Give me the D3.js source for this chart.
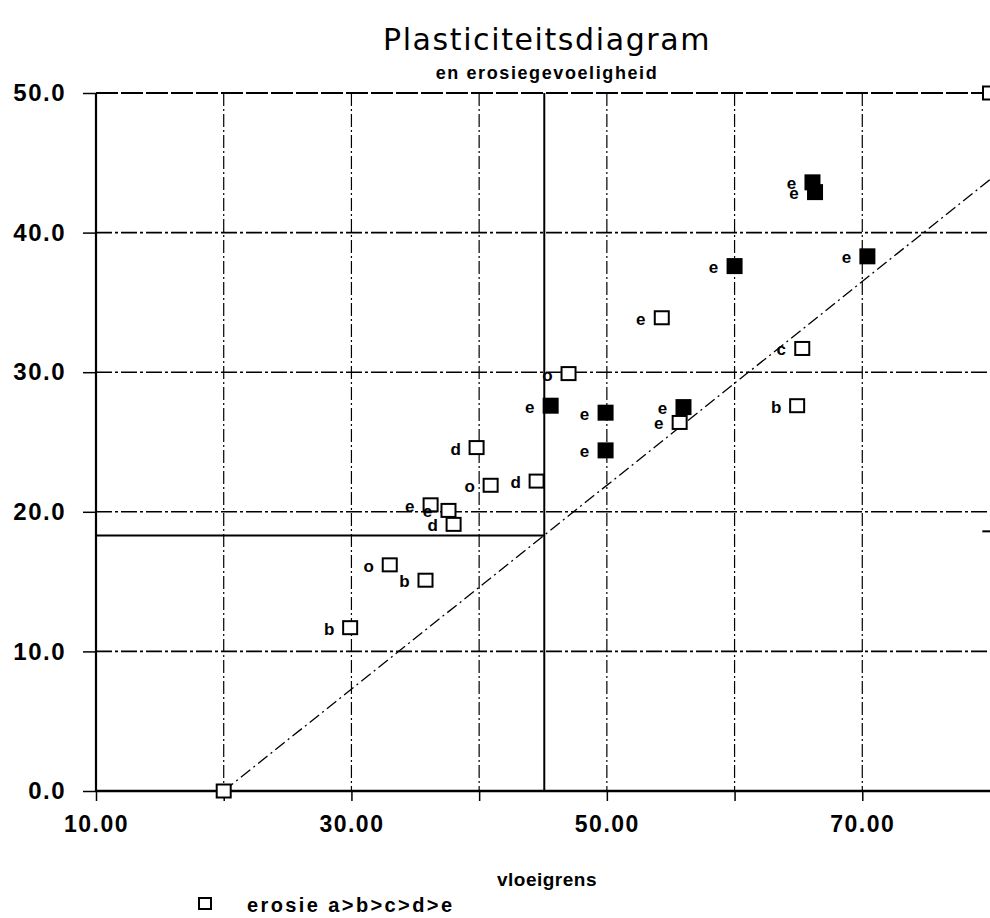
<!DOCTYPE html>
<html><head><meta charset="utf-8">
<script src="https://cdn.jsdelivr.net/npm/d3@7"></script>
<style>
body{margin:0;background:#fff;}
svg{display:block;}
text{font-family:"Liberation Sans",Arial,sans-serif;fill:#000;}
</style></head>
<body>
<svg id="c" width="990" height="918"></svg>
<script>
// ---- data ----
const title = "Plasticiteitsdiagram";
const subtitle = "en erosiegevoeligheid";
const xLabel = "vloeigrens";
const legendText = "erosie a>b>c>d>e";
const xTicks = [10,20,30,40,50,60,70];
const xTickLabels = ["10.00","","30.00","","50.00","","70.00"];
const yTicks = [0,10,20,30,40,50];
const yTickLabels = ["0.0","10.0","20.0","30.0","40.0","50.0"];
// samples: liquid limit (vloeigrens), plasticity index, erosion label, filled marker
const sampleLL  = [29.9,33.0,35.8,36.2,37.6,38.0,40.9,39.8,44.5,47.0,45.6,49.9,49.9,56.0,55.7,54.3,65.3,64.9,60.0,66.1,66.3,70.4,20.0,80.0];
const samplePI  = [11.7,16.2,15.1,20.5,20.1,19.1,21.9,24.6,22.2,29.9,27.6,27.1,24.4,27.5,26.4,33.9,31.7,27.6,37.6,43.6,42.9,38.3,0.0,50.0];
const sampleLab = ["b","o","b","e","e","d","o","d","d","o","e","e","e","e","e","e","c","b","e","e","e","e","",""];
const sampleFilled = [0,0,0,0,0,0,0,0,0,0,1,1,1,1,0,0,0,0,1,1,1,1,0,0];
// reference lines
const aLineLL = [20,80];            // A-line PI = 0.73 (LL - 20)
const aLinePI = [0,43.8];
const boundLL = 45.1;              // solid vertical boundary
const boundPI = 18.3;              // solid horizontal boundary

// ---- chart ----
const svg = d3.select("#c");
const x = d3.scaleLinear().domain([10,80]).range([96,990]);
const y = d3.scaleLinear().domain([0,50]).range([791,93]);
const dashDot = "13,3,2,3";

svg.append("clipPath").attr("id","pc").append("rect")
  .attr("x",0).attr("y",0).attr("width",990).attr("height",918);

// grid
const g = svg.append("g");
g.selectAll(".vg").data(xTicks.slice(1)).enter().append("line")
  .attr("x1",d=>x(d)).attr("x2",d=>x(d)).attr("y1",y(50)).attr("y2",y(0))
  .attr("stroke","#000").attr("stroke-width",1.2).attr("stroke-dasharray",dashDot);
g.selectAll(".hg").data(yTicks.slice(1,5)).enter().append("line")
  .attr("x1",x(10)).attr("x2",x(80)).attr("y1",d=>y(d)).attr("y2",d=>y(d))
  .attr("stroke","#000").attr("stroke-width",1.6).attr("stroke-dasharray","16,3,3,3");
g.append("line").attr("x1",x(10)).attr("x2",x(80)).attr("y1",y(50)).attr("y2",y(50))
  .attr("stroke","#000").attr("stroke-width",2).attr("stroke-dasharray","22,3");

// axes
const xAxis = d3.axisBottom(x).tickValues(xTicks).tickSize(10).tickPadding(15)
  .tickFormat((d,i)=>xTickLabels[i]);
const xa = svg.append("g").attr("transform",`translate(0,${y(0)})`).call(xAxis);
xa.select(".domain").remove();
xa.selectAll(".tick line").attr("stroke","#000").attr("stroke-width",1.5);
xa.selectAll(".tick text").attr("font-size",23).attr("font-weight","bold").attr("letter-spacing",1.5)
  .style("font-family","'Liberation Sans',Arial,sans-serif");

const yAxis = d3.axisLeft(y).tickValues(yTicks).tickSize(13).tickPadding(17)
  .tickFormat((d,i)=>yTickLabels[i]);
const ya = svg.append("g").attr("transform",`translate(${x(10)},0)`).call(yAxis);
ya.select(".domain").remove();
ya.selectAll(".tick line").attr("stroke","#000").attr("stroke-width",1.5);
ya.selectAll(".tick text").attr("font-size",24).attr("font-weight","bold").attr("letter-spacing",1.5)
  .style("font-family","'Liberation Sans',Arial,sans-serif");

svg.append("line").attr("x1",x(10)).attr("x2",x(80)).attr("y1",y(0)).attr("y2",y(0))
  .attr("stroke","#000").attr("stroke-width",2.4);
svg.append("line").attr("x1",x(10)).attr("x2",x(10)).attr("y1",y(50)).attr("y2",y(0))
  .attr("stroke","#000").attr("stroke-width",2.2);

// boundary lines
svg.append("line").attr("x1",x(10)).attr("x2",x(boundLL)).attr("y1",y(boundPI)).attr("y2",y(boundPI))
  .attr("stroke","#000").attr("stroke-width",2);
svg.append("line").attr("x1",x(boundLL)).attr("x2",x(boundLL)).attr("y1",y(50)).attr("y2",y(0))
  .attr("stroke","#000").attr("stroke-width",2);
svg.append("line").attr("x1",x(79.4)).attr("x2",x(80)).attr("y1",y(18.6)).attr("y2",y(18.6))
  .attr("stroke","#000").attr("stroke-width",2);

// A-line
svg.append("line").attr("x1",x(aLineLL[0])).attr("y1",y(aLinePI[0]))
  .attr("x2",x(aLineLL[1])).attr("y2",y(aLinePI[1]))
  .attr("stroke","#000").attr("stroke-width",1.3).attr("stroke-dasharray","12,4,2,4");

// points
const pts = sampleLL.map((d,i)=>({ll:d,pi:samplePI[i],lab:sampleLab[i],f:sampleFilled[i]}));
const pg = svg.append("g").attr("clip-path","url(#pc)");
pg.selectAll("rect.pt").data(pts).enter().append("rect")
  .attr("x",d=>x(d.ll)-7).attr("y",d=>y(d.pi)-(d.f?7:6.5))
  .attr("width",14).attr("height",d=>d.f?14:13)
  .attr("fill",d=>d.f?"#000":"#fff").attr("stroke","#000").attr("stroke-width",2);
pg.selectAll("text.lab").data(pts.filter(d=>d.lab)).enter().append("text")
  .attr("x",d=>x(d.ll)-21).attr("y",d=>y(d.pi)+7)
  .attr("text-anchor","middle").attr("font-size",17).attr("font-weight","bold")
  .text(d=>d.lab);

// titles
svg.append("text").attr("x",547).attr("y",50).attr("text-anchor","middle")
  .attr("font-size",30).attr("letter-spacing",1.6).style("font-family","'DejaVu Sans',sans-serif")
  .text(title);
svg.append("text").attr("x",547).attr("y",79).attr("text-anchor","middle")
  .attr("font-size",18).attr("font-weight","bold").attr("letter-spacing",1.6).text(subtitle);
svg.append("text").attr("x",547).attr("y",886).attr("text-anchor","middle")
  .attr("font-size",19).attr("font-weight","bold").attr("letter-spacing",0.5).text(xLabel);

// legend
svg.append("rect").attr("x",199).attr("y",898).attr("width",12).attr("height",11)
  .attr("fill","#fff").attr("stroke","#000").attr("stroke-width",2);
svg.append("text").attr("x",247).attr("y",912).attr("font-size",20).attr("font-weight","bold")
  .attr("letter-spacing",2.4).text(legendText);
</script>
</body></html>
